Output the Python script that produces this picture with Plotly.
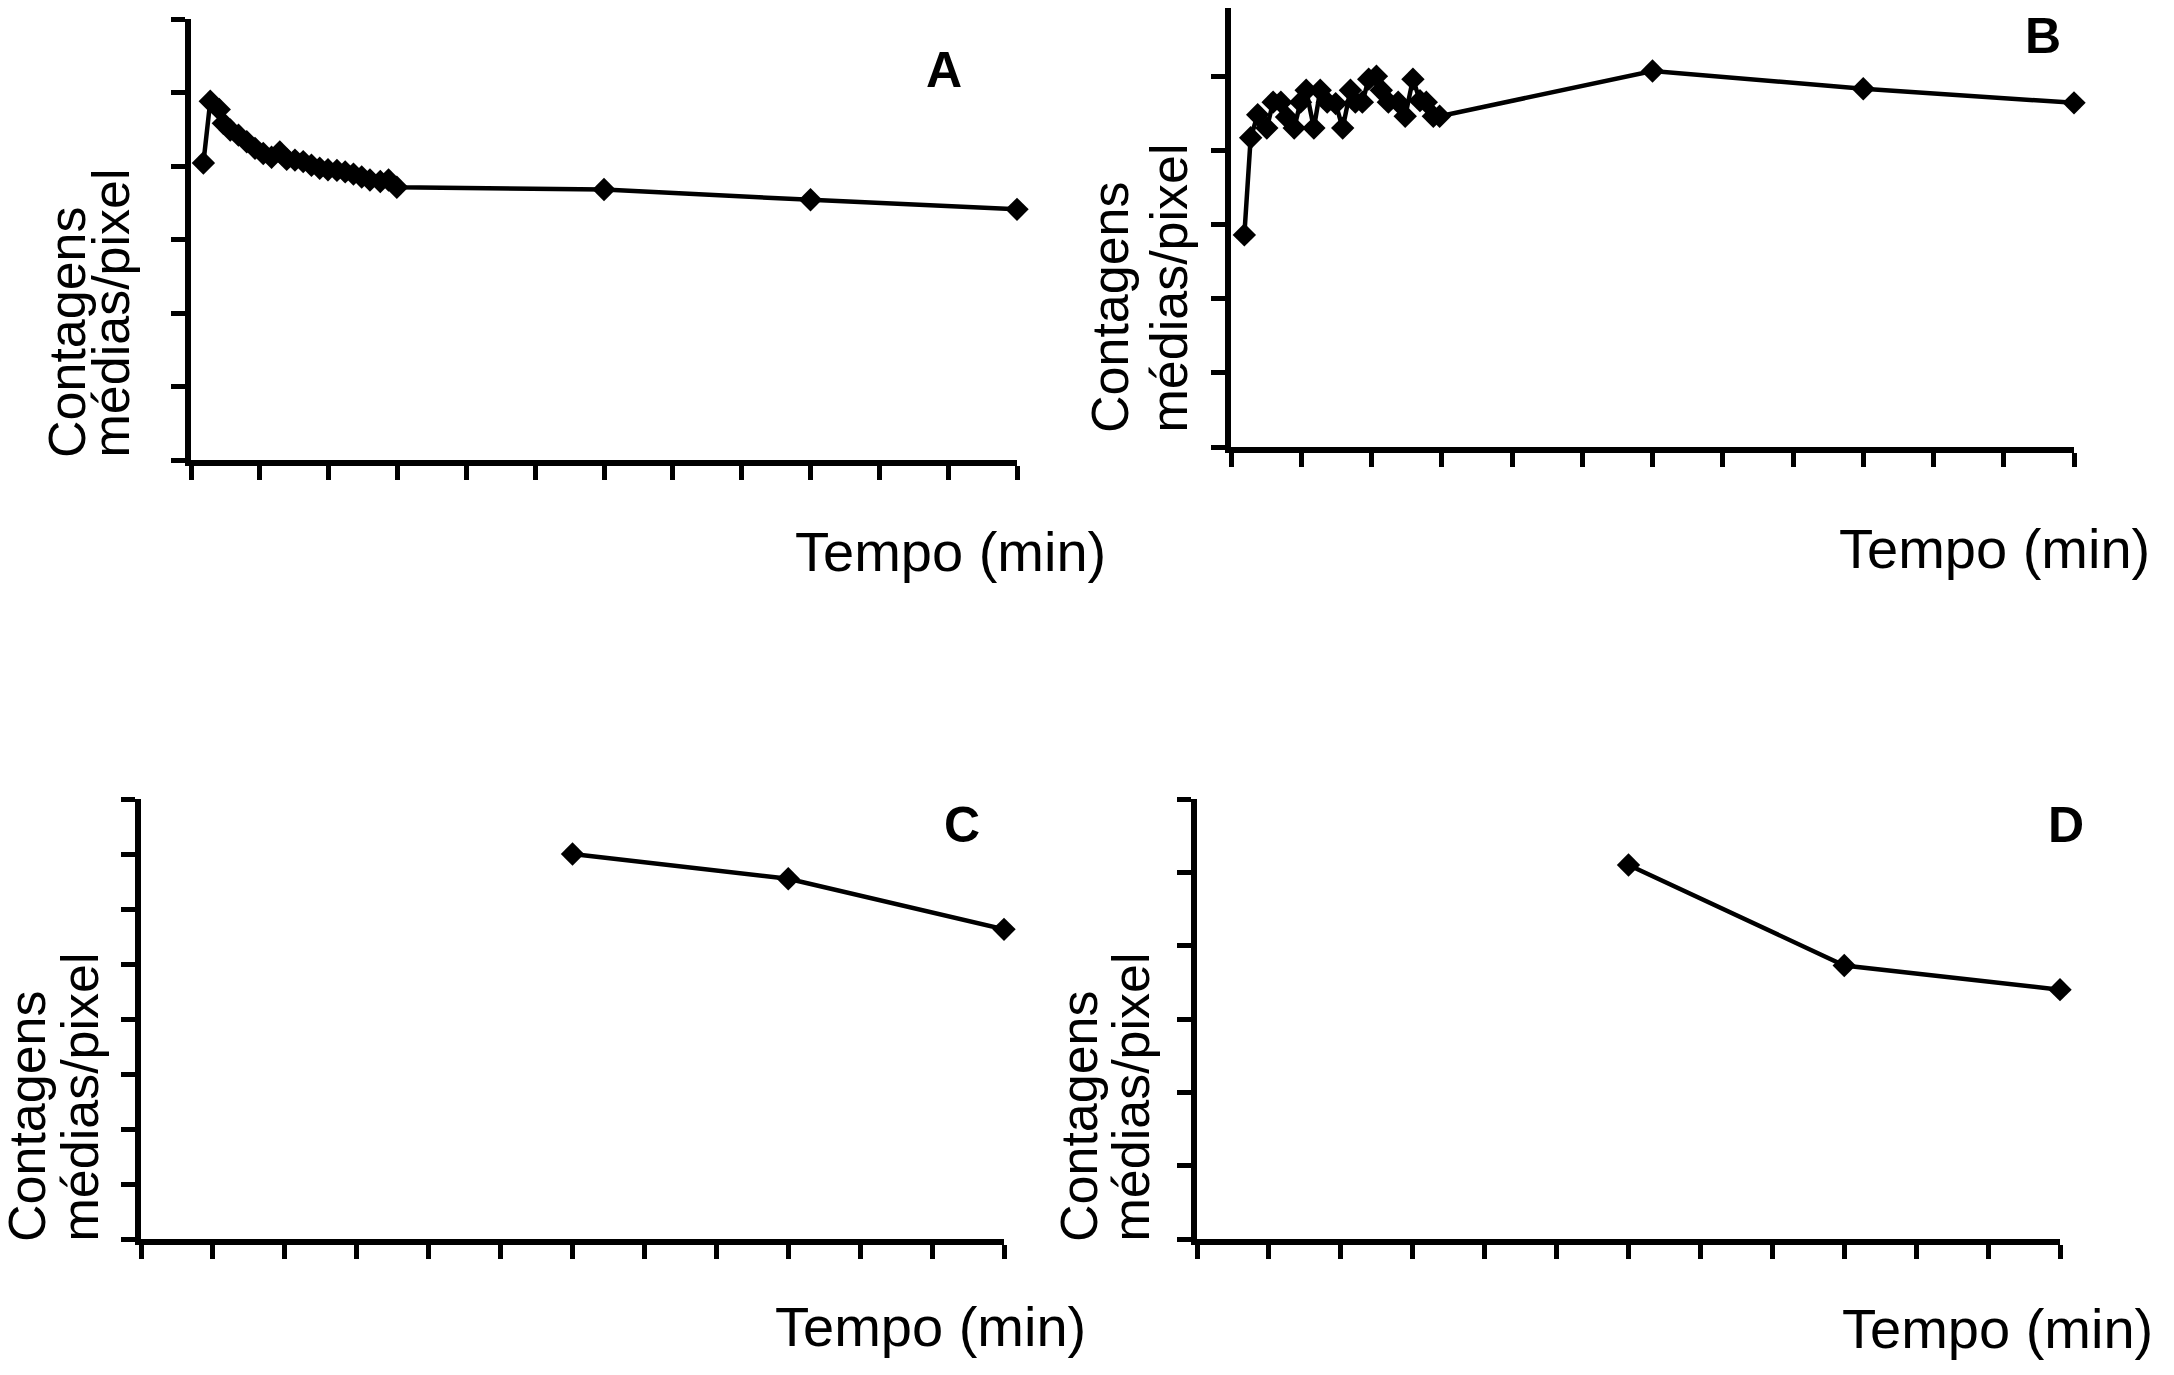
import plotly.graph_objects as go

W, H = 2174, 1375
PAGE_MARGIN = 8  # browser default body margin around the plot div

# panel A - early frames then 6, 9, 12 min
a_time = [0.18, 0.28, 0.41, 0.47, 0.57, 0.69, 0.81, 0.93, 1.05, 1.17, 1.29, 1.39, 1.51,
          1.63, 1.75, 1.87, 1.99, 2.12, 2.24, 2.36, 2.48, 2.60, 2.75, 2.87, 2.99, 6, 9, 12]
a_counts = [4.04, 4.88, 4.77, 4.58, 4.49, 4.42, 4.33, 4.24, 4.17, 4.12, 4.19, 4.09, 4.08,
            4.06, 4.01, 3.97, 3.95, 3.94, 3.92, 3.89, 3.85, 3.81, 3.79, 3.81, 3.71, 3.68, 3.54, 3.41]

# panel B
b_time = [0.19, 0.28, 0.38, 0.51, 0.60, 0.71, 0.79, 0.90, 0.99, 1.07, 1.18, 1.27, 1.37, 1.49,
          1.59, 1.70, 1.77, 1.87, 1.96, 2.07, 2.14, 2.24, 2.38, 2.48, 2.59, 2.69, 2.78, 2.88,
          2.97, 6, 9, 12]
b_counts = [2.86, 4.17, 4.48, 4.30, 4.65, 4.65, 4.45, 4.30, 4.65, 4.81, 4.30, 4.81, 4.65, 4.63,
            4.30, 4.81, 4.65, 4.65, 4.96, 5.00, 4.81, 4.65, 4.65, 4.46, 4.96, 4.67, 4.65, 4.46,
            4.46, 5.07, 4.83, 4.64]

# panels C and D
c_time = [6, 9, 12]
c_counts = [7.00, 6.55, 5.63]
d_time = [6, 9, 12]
d_counts = [5.10, 3.73, 3.40]

panel_letters = ["A", "B", "C", "D"]
y_label_top = "Contagens"
y_label_bottom = "médias/pixel"
x_label = "Tempo (min)"

FONT = "Arial, Liberation Sans, sans-serif"

FW, FH = W - 2 * PAGE_MARGIN, H - 2 * PAGE_MARGIN


def px_x(p):
    return (p - PAGE_MARGIN) / FW


def px_y(p):
    return 1 - (p - PAGE_MARGIN) / FH


# pixel boxes (screen coords) of each plot area: left, right, top, bottom
panels = [
    dict(x=a_time, y=a_counts, box=(191, 1017, 19, 460), ymax=6),
    dict(x=b_time, y=b_counts, box=(1231, 2074, 2, 447), ymax=6),
    dict(x=c_time, y=c_counts, box=(141, 1004, 799, 1239), ymax=8),
    dict(x=d_time, y=d_counts, box=(1197, 2060, 799, 1239), ymax=6),
]

fig = go.Figure()
axis_style = dict(showline=True, linewidth=5.5, linecolor="black", ticks="outside",
                  ticklen=14, tickwidth=5, tickcolor="black", showticklabels=False,
                  showgrid=False, zeroline=False, tick0=0, dtick=1, fixedrange=True)

for i, p in enumerate(panels):
    n = "" if i == 0 else str(i + 1)
    l, r, t, b = p["box"]
    # panel B runs into the page margin: cut the axis at the visible top
    t_vis = max(t, PAGE_MARGIN)
    ytop = p["ymax"] * (b - t_vis) / (b - t)
    fig.add_trace(go.Scatter(
        x=p["x"], y=p["y"], mode="lines+markers",
        line=dict(color="black", width=4.5),
        marker=dict(symbol="diamond", size=18, color="black"),
        cliponaxis=False, showlegend=False,
        xaxis="x" + n, yaxis="y" + n,
    ))
    fig.update_layout(**{
        "xaxis" + n: dict(axis_style, domain=[px_x(l), px_x(r)], range=[0, 12],
                          anchor="y" + n),
        "yaxis" + n: dict(axis_style, domain=[px_y(b), px_y(t_vis)], range=[0, ytop],
                          anchor="x" + n),
    })

# text labels (screen pixel positions, centres)
letter_pos = [(944, 70), (2043, 36), (962, 825), (2066, 825)]
xlabel_pos = [(950, 551), (1994, 548), (930, 1326), (1997, 1328)]
ylabel_pos = [(67, 110, 460), (1110, 1169, 435), (27, 79, 1244), (1079, 1130, 1244)]

annotations = []
for k in range(4):
    lx, ly = letter_pos[k]
    annotations.append(dict(text="<b>%s</b>" % panel_letters[k], x=px_x(lx), y=px_y(ly),
                            xanchor="center", yanchor="middle",
                            xref="paper", yref="paper", showarrow=False,
                            font=dict(family=FONT, size=50, color="black")))
    tx, ty = xlabel_pos[k]
    annotations.append(dict(text=x_label, x=px_x(tx), y=px_y(ty),
                            xanchor="center", yanchor="middle",
                            xref="paper", yref="paper", showarrow=False,
                            font=dict(family=FONT, size=56, color="black")))
    c1, c2, yb = ylabel_pos[k]
    for cx, txt in ((c1, y_label_top), (c2, y_label_bottom)):
        annotations.append(dict(text=txt, x=px_x(cx), y=px_y(yb), textangle=-90,
                                xanchor="center", yanchor="bottom",
                                xref="paper", yref="paper", showarrow=False,
                                font=dict(family=FONT, size=52, color="black")))

fig.update_layout(
    width=FW, height=FH,
    margin=dict(l=0, r=0, t=0, b=0),
    paper_bgcolor="white", plot_bgcolor="white",
    annotations=annotations,
)

fig.write_html("out.html")
